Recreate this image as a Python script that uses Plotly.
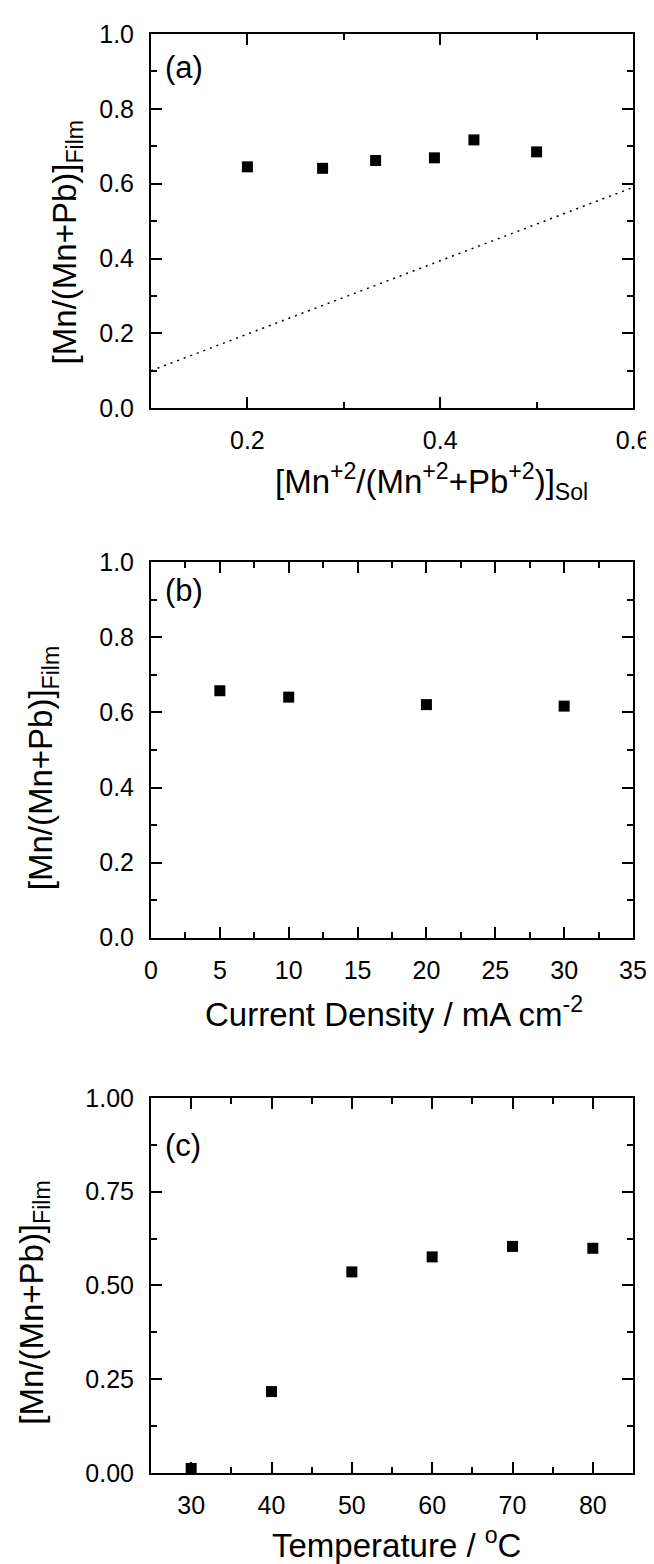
import plotly.graph_objects as go

# ---------------- data ----------------
a_x = [0.200, 0.278, 0.333, 0.394, 0.435, 0.500]
a_y = [0.645, 0.641, 0.662, 0.669, 0.717, 0.685]
a_line_x = [0.1, 0.6]
a_line_y = [0.1, 0.59]

b_x = [5, 10, 20, 30]
b_y = [0.658, 0.641, 0.621, 0.617]

c_x = [30, 40, 50, 60, 70, 80]
c_y = [0.012, 0.217, 0.536, 0.576, 0.604, 0.599]

panel_labels = ["(a)", "(b)", "(c)"]
y_title = "[Mn/(Mn+Pb)]<sub>Film</sub>"
x_titles = [
    "[Mn<sup>+2</sup>/(Mn<sup>+2</sup>+Pb<sup>+2</sup>)]<sub>Sol</sub>",
    "Current Density / mA cm<sup>-2</sup>",
    "Temperature / <sup>o</sup>C",
]

# ---------------- layout helpers ----------------
W, H = 654, 1564
L, R, T, B = 143, 21, 19, 99
PW, PH = W - L - R, H - T - B
FONT = "Liberation Sans, Arial, Helvetica, sans-serif"


def px2x(px):
    return (px - L) / PW


def px2y(py):
    return (H - B - py) / PH


fig = go.Figure()

mk = dict(symbol="square", size=11, color="black", line=dict(width=0))

fig.add_trace(go.Scatter(x=a_line_x, y=a_line_y, mode="lines",
                         line=dict(color="black", width=1.5, dash="2px,5px"),
                         xaxis="x", yaxis="y", showlegend=False))
fig.add_trace(go.Scatter(x=a_x, y=a_y, mode="markers", marker=mk,
                         xaxis="x", yaxis="y", showlegend=False, cliponaxis=False))
fig.add_trace(go.Scatter(x=b_x, y=b_y, mode="markers", marker=mk,
                         xaxis="x2", yaxis="y2", showlegend=False, cliponaxis=False))
fig.add_trace(go.Scatter(x=c_x, y=c_y, mode="markers", marker=mk,
                         xaxis="x3", yaxis="y3", showlegend=False, cliponaxis=False))

ax_common = dict(showline=True, linecolor="black", linewidth=2, mirror="ticks",
                 ticks="inside", ticklen=11, tickwidth=1.5, tickcolor="black",
                 showgrid=False, zeroline=False,
                 tickfont=dict(family=FONT, size=25, color="black"))


def minor(d):
    return dict(ticks="inside", ticklen=6, tickwidth=1.5, tickcolor="black", dtick=d, showgrid=False)


dom_a = [px2y(395), px2y(19)]
dom_b = [px2y(927), px2y(550)]
dom_c = [px2y(1465), px2y(1088)]

XS, YS = 9, 10  # tick label standoffs

fig.update_layout(
    width=W, height=H,
    margin=dict(l=L, r=R, t=T, b=B),
    paper_bgcolor="white", plot_bgcolor="white",
    font=dict(family=FONT, color="black"),
    xaxis=dict(ax_common, domain=[0, 1], anchor="y", range=[0.1, 0.6], tick0=0, dtick=0.2,
               tickformat=".1f", minor=minor(0.1), ticklabelstandoff=XS),
    yaxis=dict(ax_common, domain=dom_a, anchor="x", range=[0, 1], tick0=0, dtick=0.2,
               tickformat=".1f", minor=minor(0.1), ticklabelstandoff=YS),
    xaxis2=dict(ax_common, domain=[0, 1], anchor="y2", range=[0, 35], tick0=0, dtick=5,
                minor=minor(2.5), ticklabelstandoff=XS),
    yaxis2=dict(ax_common, domain=dom_b, anchor="x2", range=[0, 1], tick0=0, dtick=0.2,
                tickformat=".1f", minor=minor(0.1), ticklabelstandoff=YS),
    xaxis3=dict(ax_common, domain=[0, 1], anchor="y3", range=[25, 85], tick0=0, dtick=10,
                minor=minor(5), ticklabelstandoff=XS),
    yaxis3=dict(ax_common, domain=dom_c, anchor="x3", range=[0, 1], tick0=0, dtick=0.25,
                tickformat=".2f", minor=minor(0.125), ticklabelstandoff=YS),
)

ann = []
# panel labels
for lab, cy in zip(panel_labels, [53, 578, 1136]):
    ann.append(dict(text=lab, x=px2x(155), y=px2y(cy), xref="paper", yref="paper",
                    xanchor="left", yanchor="middle", showarrow=False,
                    font=dict(family=FONT, size=31, color="black")))
# y titles
for cx, cy in zip([58, 34, 24], [228, 757, 1294]):
    ann.append(dict(text=y_title, x=px2x(cx), y=px2y(cy), xref="paper", yref="paper",
                    xanchor="center", yanchor="middle", textangle=-90, showarrow=False,
                    font=dict(family=FONT, size=33, color="black")))
# x titles
for t, cx, cy in zip(x_titles, [428, 390, 393], [469, 1002, 1535]):
    ann.append(dict(text=t, x=px2x(cx), y=px2y(cy), xref="paper", yref="paper",
                    xanchor="center", yanchor="middle", showarrow=False,
                    font=dict(family=FONT, size=33, color="black")))
fig.update_layout(annotations=ann)

fig.write_html("out.html")
